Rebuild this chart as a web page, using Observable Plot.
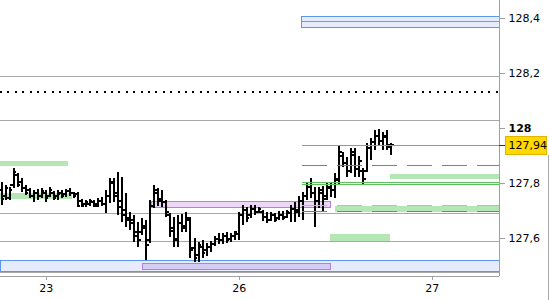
<!DOCTYPE html>
<html><head><meta charset="utf-8">
<script src="https://cdn.jsdelivr.net/npm/d3@7"></script>
<script src="https://cdn.jsdelivr.net/npm/@observablehq/plot@0.6"></script>
<style>
body{margin:0;background:#fff;}
#wrap{position:relative;width:550px;height:300px;overflow:hidden;}
#edge{position:absolute;left:548px;top:155px;width:1px;height:145px;background:#a9a9a9;}
</style></head><body>
<div id="wrap"><div id="edge"></div></div>
<script>
// Day labels on the trading-time axis (weekend removed)
const dayLabels = ["23", "26", "27"];
const dayIndex = [0, 1, 2];
// 30-minute bars, time measured in trading days from the 23rd
const barStart = -0.2316;
const barStep = 1 / 48;

const open = [127.776,127.757,127.750,127.794,127.830,127.805,127.786,127.776,127.757,127.765,
127.757,127.768,127.757,127.768,127.754,127.765,127.761,127.772,127.765,127.761,
127.736,127.728,127.725,127.732,127.725,127.739,127.728,127.754,127.801,127.768,
127.739,127.703,127.674,127.667,127.623,127.623,127.638,127.594,127.721,127.768,
127.746,127.732,127.685,127.638,127.601,127.659,127.645,127.667,127.565,127.540,
127.572,127.558,127.569,127.580,127.601,127.594,127.609,127.601,127.609,127.616,
127.685,127.703,127.688,127.710,127.699,127.699,127.681,127.670,127.685,127.674,
127.688,127.681,127.692,127.710,127.703,127.739,127.754,127.790,127.768,127.739,
127.768,127.754,127.783,127.776,127.812,127.899,127.877,127.848,127.903,127.855,
127.848,127.848,127.928,127.950,127.972,127.957,127.968,127.935];
const high = [127.805,127.794,127.786,127.855,127.837,127.819,127.794,127.783,127.776,127.779,
127.783,127.776,127.786,127.772,127.776,127.776,127.779,127.783,127.768,127.768,
127.743,127.739,127.743,127.739,127.746,127.750,127.776,127.819,127.819,127.841,
127.823,127.765,127.696,127.685,127.659,127.674,127.667,127.739,127.794,127.783,
127.776,127.739,127.692,127.678,127.685,127.688,127.696,127.678,127.601,127.587,
127.594,127.583,127.590,127.609,127.619,127.619,127.623,127.619,127.627,127.696,
127.721,127.714,127.721,127.721,127.714,127.703,127.696,127.696,127.692,127.699,
127.699,127.703,127.721,127.732,127.754,127.768,127.805,127.819,127.786,127.786,
127.790,127.805,127.805,127.837,127.935,127.914,127.895,127.928,127.928,127.899,
127.855,127.946,127.964,127.993,127.997,127.986,127.993,127.946];
const low = [127.721,127.739,127.739,127.783,127.786,127.768,127.757,127.746,127.732,127.739,
127.746,127.732,127.750,127.739,127.739,127.746,127.750,127.754,127.746,127.714,
127.714,127.714,127.717,127.714,127.714,127.717,127.692,127.728,127.732,127.685,
127.659,127.641,127.630,127.587,127.569,127.612,127.521,127.583,127.710,127.717,
127.714,127.678,127.605,127.569,127.569,127.623,127.623,127.529,127.514,127.514,
127.529,127.536,127.550,127.572,127.580,127.580,127.583,127.587,127.594,127.594,
127.648,127.659,127.674,127.685,127.692,127.663,127.656,127.663,127.659,127.667,
127.667,127.674,127.659,127.659,127.678,127.667,127.739,127.746,127.641,127.710,
127.696,127.739,127.750,127.746,127.794,127.859,127.823,127.837,127.823,127.823,
127.794,127.841,127.884,127.921,127.939,127.921,127.921,127.903];
const close = [127.746,127.783,127.776,127.841,127.797,127.783,127.768,127.757,127.765,127.754,
127.772,127.750,127.776,127.750,127.761,127.757,127.772,127.765,127.754,127.721,
127.721,127.732,127.736,127.721,127.739,127.728,127.757,127.805,127.757,127.717,
127.688,127.667,127.659,127.612,127.594,127.648,127.576,127.721,127.776,127.739,
127.732,127.696,127.630,127.594,127.659,127.638,127.674,127.558,127.529,127.576,
127.550,127.572,127.583,127.601,127.594,127.609,127.594,127.609,127.623,127.685,
127.703,127.674,127.710,127.696,127.707,127.678,127.667,127.685,127.667,127.688,
127.674,127.696,127.710,127.696,127.739,127.754,127.790,127.768,127.739,127.776,
127.746,127.790,127.776,127.819,127.914,127.877,127.848,127.914,127.855,127.884,
127.819,127.928,127.950,127.975,127.957,127.975,127.939,127.939];

const lastPrice = 127.94;
const yTicks = [127.6, 127.8, 128.2, 128.4];
const yTickBold = [128];

// Visible window (trading days / price)
const xDomain = [-0.237, 2.349];
const yDomain = [127.4632, 128.4654];

// Zones: start, end (days), low, high (price)
const blueZoneStart = [1.328, -0.237];
const blueZoneEnd   = [2.349, 2.349];
const blueZoneLow   = [128.366, 127.479];
const blueZoneHigh  = [128.406, 127.521];

const purpleZoneStart = [0.5456, 0.5005];
const purpleZoneEnd   = [1.4767, 1.4767];
const purpleZoneLow   = [127.712, 127.487];
const purpleZoneHigh  = [127.733, 127.510];
const purpleZoneKind  = ["upper", "lower"];

const greenZoneStart = [-0.237, -0.237, 1.784, 1.499, 1.473];
const greenZoneEnd   = [0.1155, 0.1347, 2.349, 2.349, 1.784];
const greenZoneLow   = [127.864, 127.744, 127.817, 127.697, 127.590];
const greenZoneHigh  = [127.881, 127.766, 127.834, 127.717, 127.616];

// Horizontal levels
const grayLevels = [128.188, 128.029, 127.692, 127.590, 127.479];
const dottedLevel = [128.132];
const sideStart = 1.328;
const greenLevels = [128.388, 127.94, 127.806, 127.798];
const grayDashLevels = [127.865, 127.698];
const orangeDashLevels = [127.7193];

const fmt = v => String(+v.toFixed(2)).replace(".", ",");

const bars = open.map((o, i) => ({t: barStart + i * barStep, o, h: high[i], l: low[i], c: close[i]}));
const zones = (s, e, lo, hi, extra = []) => s.map((x1, i) => ({x1, x2: e[i], y1: lo[i], y2: hi[i], kind: extra[i]}));
const blueZones = zones(blueZoneStart, blueZoneEnd, blueZoneLow, blueZoneHigh);
const purpleZones = zones(purpleZoneStart, purpleZoneEnd, purpleZoneLow, purpleZoneHigh, purpleZoneKind);
const greenZones = zones(greenZoneStart, greenZoneEnd, greenZoneLow, greenZoneHigh);

const chart = Plot.plot({
  width: 550,
  height: 300,
  marginLeft: 0,
  marginRight: 51,
  marginTop: 0,
  marginBottom: 24,
  style: {fontFamily: "DejaVu Sans", fontSize: "11px", color: "black", background: "white", shapeRendering: "crispEdges"},
  x: {domain: xDomain, axis: null},
  y: {domain: yDomain, axis: null},
  marks: [
    Plot.rect(blueZones, {x1: "x1", x2: "x2", y1: "y1", y2: "y2", fill: "#e6ecfd", stroke: "#5d95f2"}),
    Plot.rect(purpleZones, {x1: "x1", x2: "x2", y1: "y1", y2: "y2",
      fill: d => d.kind === "upper" ? "#eed6f6" : "#d6ccf3", stroke: "#b57ee6"}),
    Plot.rect(greenZones, {x1: "x1", x2: "x2", y1: "y1", y2: "y2", fill: "#b5e7b5"}),
    Plot.ruleY(grayLevels, {stroke: "#a8a8a8"}),
    Plot.ruleY(dottedLevel, {stroke: "black", strokeWidth: 2, strokeDasharray: "2,5.4"}),
    // OHLC bars
    Plot.ruleX(bars, {x: "t", y1: "l", y2: "h", stroke: "black", strokeWidth: 2}),
    Plot.ruleY(bars, {y: "o", x1: d => d.t - barStep * 0.75, x2: "t", stroke: "black", strokeWidth: 2}),
    Plot.ruleY(bars, {y: "c", x1: "t", x2: d => d.t + barStep * 0.75, stroke: "black", strokeWidth: 2}),
    // right-side levels
    Plot.ruleY(greenLevels, {x1: () => sideStart, x2: () => xDomain[1], stroke: "#5cbf5c"}),
    Plot.ruleY(grayDashLevels, {x1: () => sideStart, x2: () => xDomain[1], stroke: "#808080", strokeDasharray: "25,10"}),
    Plot.ruleY(orangeDashLevels, {x1: () => sideStart, x2: () => xDomain[1], stroke: "#f5b342", strokeDasharray: "25,10"}),
    // frame lines
    Plot.ruleY([yDomain[0]], {stroke: "#a0a0a0"}),
    Plot.ruleX([xDomain[1]], {stroke: "#a0a0a0"}),
    // axes
    Plot.axisX({ticks: dayIndex, tickFormat: i => dayLabels[i], tickSize: 4, tickPadding: 4,
      stroke: "#a0a0a0", fill: "black", fontSize: 11}),
    Plot.axisY({anchor: "right", ticks: yTicks, tickFormat: fmt, tickSize: 5, tickPadding: 4,
      stroke: "#a0a0a0", fill: "black", fontSize: 11}),
    Plot.axisY({anchor: "right", ticks: yTickBold, tickFormat: fmt, tickSize: 5, tickPadding: 4,
      stroke: "#a0a0a0", fill: "black", fontSize: 11, fontWeight: "bold"}),
    // last price label
    Plot.text([lastPrice], {
      y: d => d, frameAnchor: "right", textAnchor: "start", dx: 9,
      text: fmt, fontSize: 11, fill: "black",
      render(index, scales, values, dimensions, context, next) {
        const g = next(index, scales, values, dimensions, context);
        const right = dimensions.width - dimensions.marginRight;
        const y = Math.round(scales.y(lastPrice));
        const wrap = d3.create("svg:g");
        wrap.append("line").attr("x1", right).attr("x2", right + 6)
          .attr("y1", y + 0.5).attr("y2", y + 0.5).attr("stroke", "#333");
        wrap.append("rect").attr("x", right + 6.5).attr("y", y - 8.5)
          .attr("width", 41).attr("height", 18).attr("fill", "#ffd800").attr("stroke", "#e0b400");
        wrap.node().appendChild(g);
        return wrap.node();
      }
    })
  ]
});
document.getElementById("wrap").prepend(chart);
</script>
</body></html>
